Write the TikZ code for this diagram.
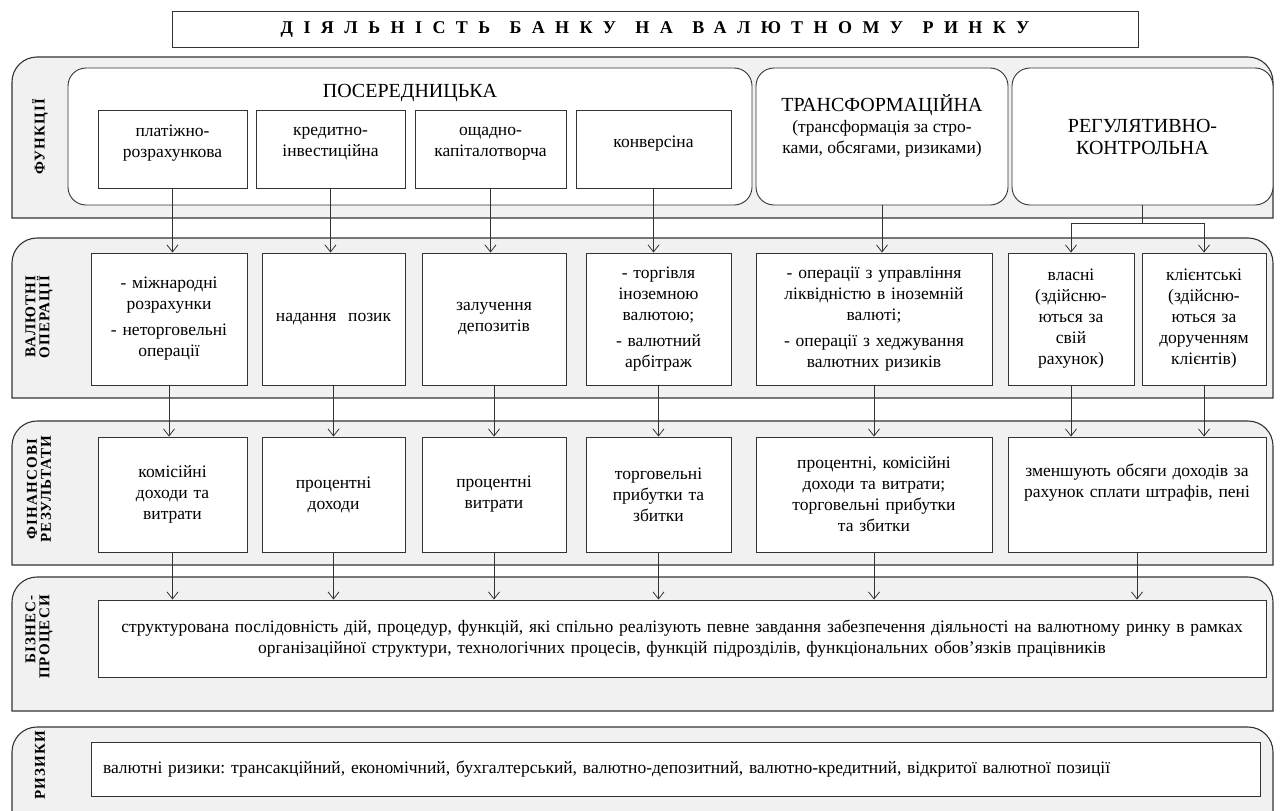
\documentclass[tikz,border=0pt]{standalone}
\usepackage{fontspec}
\setmainfont{Liberation Serif}
\newfontfamily\spacedfont[LetterSpace=58,WordSpace=1.3]{Liberation Serif}
\newfontfamily\sidefam[LetterSpace=8]{Liberation Serif}
\usetikzlibrary{arrows.meta}
\definecolor{bandgrey}{HTML}{F1F1F1}
\definecolor{linegrey}{HTML}{333333}
\newcommand\boxfont{\frenchspacing\fontsize{17.5}{21}\selectfont}
\newcommand\headfont{\fontsize{20}{22}\selectfont}
\newcommand\sidefont{\sidefam\bfseries\fontsize{15}{14}\selectfont}

\begin{document}
\begin{tikzpicture}[
  x=1pt, y=-1pt,
  band/.style={draw=linegrey, fill=bandgrey, line width=1.1pt},
  func/.style={draw=linegrey, fill=white, rounded corners=18pt, line width=0.9pt, inner sep=0pt},
  box/.style={draw=linegrey, fill=white, line width=0.9pt, inner sep=0pt, align=center, font=\boxfont},
  side/.style={rotate=90, align=center, font=\sidefont},
  arrow/.style={-{Straight Barb[length=7pt,width=11pt]}, draw=linegrey, line width=0.8pt}
]
\useasboundingbox[fill=white] (0,0) rectangle (1280,811);

% title
\node[draw=linegrey, line width=0.9pt, minimum width=966pt, minimum height=36pt,
      font=\spacedfont\bfseries\fontsize{18}{20}\selectfont] (title) at (655,29)
      {ДІЯЛЬНІСТЬ БАНКУ НА ВАЛЮТНОМУ РИНКУ};

% bands
\foreach \ya/\yb in {57/218, 238/398, 421/565, 577/711, 727/830}
  \draw[band] (12,\yb) -- (12,\ya+25) arc[start angle=180, end angle=270, radius=25]
    -- (1248,\ya) arc[start angle=270, end angle=360, radius=25] -- (1273,\yb) -- cycle;

\node[side] (lfunc) at (40,137) {ФУНКЦІЇ};
\node[side, align=right] (lops) at (39,317) {ВАЛЮТНІ\\ОПЕРАЦІЇ};
\node[side] (lfin) at (39,489) {ФІНАНСОВІ\\РЕЗУЛЬТАТИ};
\node[side, align=right] (lbp) at (39,637) {БІЗНЕС-\\ПРОЦЕСИ};
\node[side] (lrisk) at (40,765) {РИЗИКИ};

% functions
\node[func, minimum width=684pt, minimum height=137pt] (poser) at (410,136.5) {};
\node[font=\headfont] (posername) at (410,93) {ПОСЕРЕДНИЦЬКА};
\node[box, text width=149pt, minimum height=78pt] (fpay) at (172.5,149) {платіжно-\\розрахункова\\[-6pt]\mbox{}};
\node[box, text width=149pt, minimum height=78pt] (fcred) at (330.5,149) {кредитно-\\інвестиційна\\[-6pt]\mbox{}};
\node[box, text width=151pt, minimum height=78pt] (fsave) at (490.5,149) {ощадно-\\капіталотворча\\[-6pt]\mbox{}};
\node[box, text width=155pt, minimum height=78pt] (fconv) at (653.5,149) {конверсіна\\[-6pt]\mbox{}};
\node[func, minimum width=252pt, minimum height=137pt] (ftrans) at (882,136.5) {};
\node[align=center, font=\boxfont] (ftranstext) at (882,126)
  {{\headfont ТРАНСФОРМАЦІЙНА}\\(трансформація за стро-\\ками, обсягами, ризиками)};
\node[func, minimum width=261pt, minimum height=137pt, align=center, font=\headfont] (fregul) at (1142.5,136.5)
  {РЕГУЛЯТИВНО-\\КОНТРОЛЬНА};

% operations
\node[box, text width=156pt, minimum height=132pt] (omint) at (169,319)
  {- міжнародні\\розрахунки\\[5pt]- неторговельні\\операції};
\node[box, text width=143pt, minimum height=132pt] (oloan) at (333.5,319) {надання~~позик};
\node[box, text width=144pt, minimum height=132pt] (odep) at (494,319) {залучення\\депозитів};
\node[box, text width=145pt, minimum height=132pt] (otrade) at (658.5,319)
  {- торгівля\\іноземною\\валютою;\\[5pt]- валютний\\арбітраж};
\node[box, text width=236pt, minimum height=132pt] (oliq) at (874,319)
  {- операції з управління\\ліквідністю в іноземній\\валюті;\\[5pt]- операції з хеджування\\валютних ризиків};
\node[box, text width=126pt, minimum height=132pt] (oown) at (1071,319)
  {власні\\(здійсню-\\ються за\\свій\\рахунок)};
\node[box, text width=124pt, minimum height=132pt] (oclient) at (1204,319)
  {клієнтські\\(здійсню-\\ються за\\дорученням\\клієнтів)};

% results
\node[box, text width=149pt, minimum height=115pt] (rcom) at (172.5,494.5) {комісійні\\доходи та\\витрати};
\node[box, text width=143pt, minimum height=115pt] (rintinc) at (333.5,494.5) {процентні\\доходи};
\node[box, text width=144pt, minimum height=115pt] (rintexp) at (494,494.5) {процентні\\витрати};
\node[box, text width=145pt, minimum height=115pt] (rtrade) at (658.5,494.5) {торговельні\\прибутки та\\збитки};
\node[box, text width=236pt, minimum height=115pt] (rmix) at (874,494.5)
  {процентні, комісійні\\доходи та витрати;\\торговельні прибутки\\та збитки};
\node[box, text width=258pt, minimum height=115pt] (rpen) at (1137,494.5)
  {зменшують обсяги доходів за\\рахунок сплати штрафів, пені\\[6pt]\mbox{}};

% business processes and risks
\node[box, text width=1168pt, minimum height=77pt] (bproc) at (682,638.5)
  {структурована послідовність дій, процедур, функцій, які спільно реалізують певне завдання забезпечення діяльності на валютному ринку в рамках\\
   організаційної структури, технологічних процесів, функцій підрозділів, функціональних обов’язків працівників};
\node[box, text width=1145pt, inner xsep=12pt, minimum height=54pt, align=left] (risk) at (675.5,769)
  {валютні ризики: трансакційний, економічний, бухгалтерський, валютно-депозитний, валютно-кредитний, відкритої валютної позиції};

% connectors
\foreach \a/\b in {fpay/omint, fcred/oloan, fsave/odep, fconv/otrade, ftrans/oliq}
  \draw[arrow] (\a) -- (\a |- \b.north);
\coordinate (rsplit) at (1142.5,223);
\draw[draw=linegrey, line width=0.8pt] (fregul) -- (rsplit);
\draw[arrow] (rsplit) -| (oown);
\draw[arrow] (rsplit) -| (oclient);
\foreach \a/\b in {omint/rcom, oloan/rintinc, odep/rintexp, otrade/rtrade, oliq/rmix, oown/rpen, oclient/rpen}
  \draw[arrow] (\a) -- (\a |- \b.north);
\foreach \a in {rcom, rintinc, rintexp, rtrade, rmix, rpen}
  \draw[arrow] (\a) -- (\a |- bproc.north);
\end{tikzpicture}
\end{document}
